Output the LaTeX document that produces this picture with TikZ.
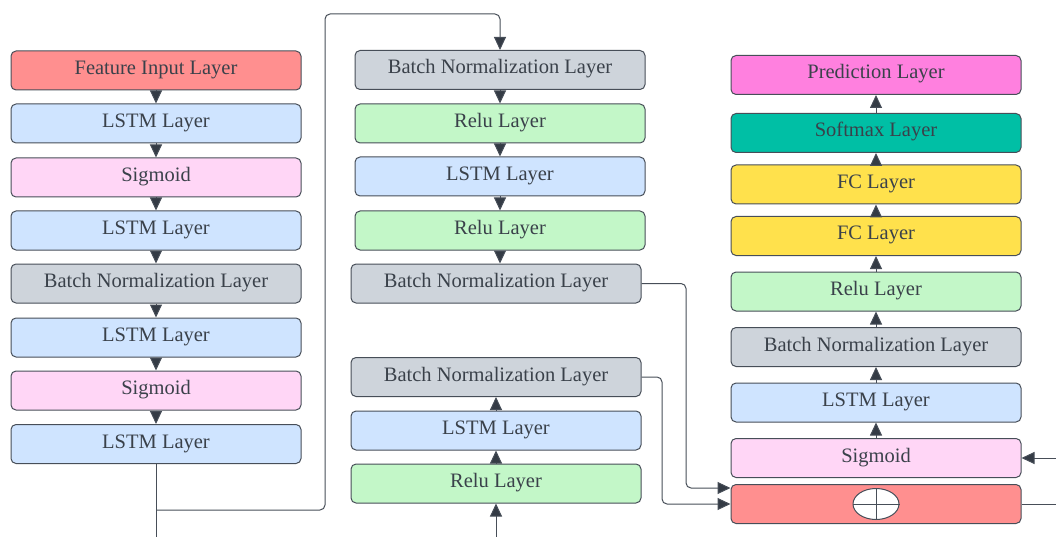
\documentclass[tikz,border=0pt]{standalone}
\usepackage{fontspec}
\setmainfont{Liberation Serif}
\newfontfamily\layerfont{Liberation Serif}
\usepackage{xcolor}
\usepackage{tikz}
\usetikzlibrary{arrows.meta,shapes.geometric}
\definecolor{ln}{HTML}{474E58}
\definecolor{tp}{HTML}{343B45}
\definecolor{tx}{HTML}{3A414A}
\definecolor{fi}{HTML}{FF8F8F}
\definecolor{ls}{HTML}{CFE4FF}
\definecolor{sg}{HTML}{FFD6F6}
\definecolor{bn}{HTML}{CED4DB}
\definecolor{rl}{HTML}{C3F7C8}
\definecolor{fc}{HTML}{FFE14C}
\definecolor{sm}{HTML}{00BFA5}
\definecolor{pr}{HTML}{FF80DF}

\begin{document}
\begin{tikzpicture}[x=1pt, y=-1pt,
    layer/.style={draw=ln, line width=1pt, rounded corners=5pt, minimum width=290pt,
      minimum height=39pt, inner sep=0pt, text=tx, text height=14pt, text depth=6pt,
      font=\layerfont\fontsize{20.5}{24}\selectfont},
    arr/.style={draw=ln, line width=1pt, -{Triangle[length=13pt,width=12pt,fill=tp]}},
    wire/.style={draw=ln, line width=1pt, rounded corners=5pt}]
  \useasboundingbox (0,0) rectangle (1056,537);
  % first column
  \node[layer, fill=fi] (fin)   at (156,70.5)  {Feature Input Layer};
  \node[layer, fill=ls] (lstmA) at (156,123.5) {LSTM Layer};
  \node[layer, fill=sg] (sigA)  at (156,177.5) {Sigmoid};
  \node[layer, fill=ls] (lstmB) at (156,230.5) {LSTM Layer};
  \node[layer, fill=bn] (bnA)   at (156,283.5) {Batch Normalization Layer};
  \node[layer, fill=ls] (lstmC) at (156,337.5) {LSTM Layer};
  \node[layer, fill=sg] (sigB)  at (156,390.5) {Sigmoid};
  \node[layer, fill=ls] (lstmD) at (156,444)   {LSTM Layer};
  % second column
  \node[layer, fill=bn] (bnB)   at (500,70)    {Batch Normalization Layer};
  \node[layer, fill=rl] (reluA) at (500,123.5) {Relu Layer};
  \node[layer, fill=ls] (lstmE) at (500,176.5) {LSTM Layer};
  \node[layer, fill=rl] (reluB) at (500,230.5) {Relu Layer};
  \node[layer, fill=bn] (bnC)   at (496,283.5) {Batch Normalization Layer};
  \node[layer, fill=bn] (bnD)   at (496,377)   {Batch Normalization Layer};
  \node[layer, fill=ls] (lstmF) at (496,430.5) {LSTM Layer};
  \node[layer, fill=rl] (reluC) at (496,483.5) {Relu Layer};
  % third column
  \node[layer, fill=pr] (pred)  at (876,75)    {Prediction Layer};
  \node[layer, fill=sm] (soft)  at (876,133)   {Softmax Layer};
  \node[layer, fill=fc] (fcA)   at (876,184.5) {FC Layer};
  \node[layer, fill=fc] (fcB)   at (876,236)   {FC Layer};
  \node[layer, fill=rl] (reluD) at (876,291.5) {Relu Layer};
  \node[layer, fill=bn] (bnE)   at (876,347)   {Batch Normalization Layer};
  \node[layer, fill=ls] (lstmG) at (876,402.5) {LSTM Layer};
  \node[layer, fill=sg] (sigC)  at (876,458)   {Sigmoid};
  \node[layer, fill=fi] (add)   at (876,504)   {};
  \node[draw=ln, line width=1pt, ellipse, fill=white, minimum width=46pt,
    minimum height=31pt, inner sep=0pt] (plus) at (add) {};
  \draw[ln, line width=1pt] (plus.north) -- (plus.south) (plus.west) -- (plus.east);
  % free ends
  \coordinate (split) at (156,510);
  \coordinate (downA) at (156,537);
  \coordinate (inB)   at (496,537);
  \coordinate (inR)   at (1056,458);
  \coordinate (outR)  at (1056,504);
  % connectors
  \foreach \a/\b in {fin/lstmA, lstmA/sigA, sigA/lstmB, lstmB/bnA, bnA/lstmC,
      lstmC/sigB, sigB/lstmD, bnB/reluA, reluA/lstmE, lstmE/reluB}
    \draw[arr] (\a) -- (\b);
  \draw[arr] (reluB.south) -- (reluB.south |- bnC.north);
  \foreach \a/\b in {reluC/lstmF, lstmF/bnD, sigC/lstmG, lstmG/bnE, bnE/reluD,
      reluD/fcB, fcB/fcA, fcA/soft, soft/pred}
    \draw[arr] (\a) -- (\b);
  \draw[wire] (lstmD.south) -- (downA);
  \draw[arr, rounded corners=5pt] (split) -| (325,14) -| (bnB.north);
  \draw[arr, rounded corners=5pt] (bnC.east) -| (686,488) -- (add.west |- 0,488);
  \draw[arr, rounded corners=5pt] (bnD.east) -| (662,504) -- (add.west);
  \draw[arr] (inB) -- (reluC.south);
  \draw[arr] (inR) -- (sigC.east);
  \draw[wire] (add.east) -- (outR);
\end{tikzpicture}
\end{document}
